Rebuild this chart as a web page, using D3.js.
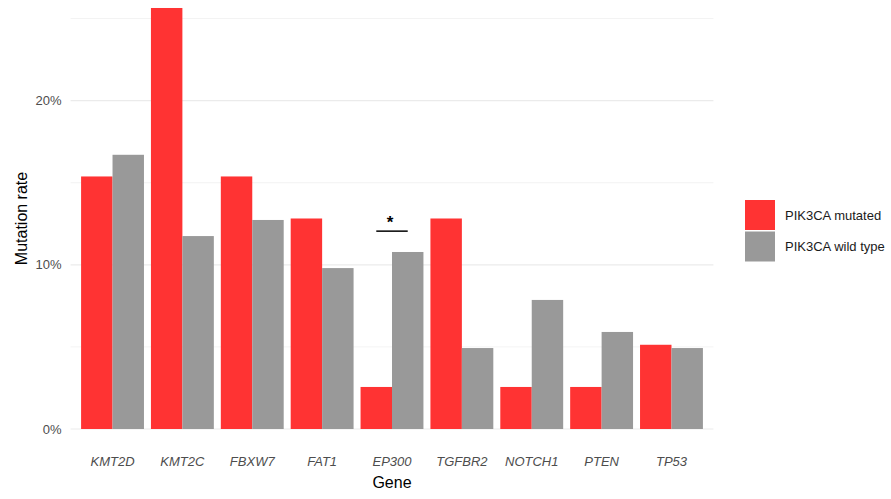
<!DOCTYPE html>
<html>
<head>
<meta charset="utf-8">
<script src="https://cdn.jsdelivr.net/npm/d3@7"></script>
<style>
  body { margin: 0; background: #fff; }
  svg text { font-family: "Liberation Sans", Arial, sans-serif; }
</style>
</head>
<body>
<div id="chart"></div>
<script>
// Data (mutation rate, %)
var genes = ["KMT2D", "KMT2C", "FBXW7", "FAT1", "EP300", "TGFBR2", "NOTCH1", "PTEN", "TP53"];
var groups = ["PIK3CA mutated", "PIK3CA wild type"];
var mutated = [15.38, 25.64, 15.38, 12.82, 2.56, 12.82, 2.56, 2.56, 5.13];
var wildType = [16.7, 11.75, 12.73, 9.8, 10.78, 4.93, 7.86, 5.91, 4.93];
var yTicks = [0, 10, 20];
var yMinor = [5, 15, 25];
var sigGene = "EP300";
var sigLevel = 12.05;

var width = 891, height = 499;
var margin = { top: 8, right: 177.6, bottom: 70, left: 70.6 };

var svg = d3.select("#chart").append("svg")
    .attr("width", width)
    .attr("height", height);

var x = d3.scaleBand()
    .domain(genes)
    .range([margin.left, width - margin.right])
    .paddingInner(0.1)
    .paddingOuter(0.15);

var x1 = d3.scaleBand()
    .domain(groups)
    .range([0, x.bandwidth()]);

var y = d3.scaleLinear()
    .domain([0, 25])
    .range([429, 18.5]);

var color = d3.scaleOrdinal().domain(groups).range(["#ff3333", "#999999"]);

// Grid lines
svg.append("g").selectAll("line.minor")
    .data(yMinor)
    .enter().append("line")
    .attr("x1", margin.left).attr("x2", width - margin.right)
    .attr("y1", function(d) { return y(d); }).attr("y2", function(d) { return y(d); })
    .style("stroke", "#ebebeb").style("stroke-width", 0.6);

svg.append("g").selectAll("line.major")
    .data(yTicks)
    .enter().append("line")
    .attr("x1", margin.left).attr("x2", width - margin.right)
    .attr("y1", function(d) { return y(d); }).attr("y2", function(d) { return y(d); })
    .style("stroke", "#ebebeb").style("stroke-width", 1.2);

// Bars
var rows = genes.map(function(g, i) {
    return { gene: g, values: [
        { group: groups[0], value: mutated[i] },
        { group: groups[1], value: wildType[i] }
    ] };
});

svg.append("g").selectAll("g")
    .data(rows)
    .enter().append("g")
    .attr("transform", function(d) { return "translate(" + x(d.gene) + ",0)"; })
    .selectAll("rect")
    .data(function(d) { return d.values; })
    .enter().append("rect")
    .attr("x", function(d) { return x1(d.group); })
    .attr("width", x1.bandwidth())
    .attr("y", function(d) { return y(d.value); })
    .attr("height", function(d) { return y(0) - y(d.value); })
    .style("fill", function(d) { return color(d.group); });

// Y axis labels
var yAxis = d3.axisLeft(y)
    .tickValues(yTicks)
    .tickSize(0)
    .tickPadding(9)
    .tickFormat(function(d) { return d + "%"; });

svg.append("g")
    .attr("transform", "translate(" + margin.left + ",0)")
    .call(yAxis)
    .call(function(g) { g.select(".domain").remove(); })
    .selectAll("text")
    .style("font-size", "13px")
    .style("fill", "#4d4d4d")
    .style("font-family", "'Liberation Sans', Arial, sans-serif");

// X axis labels
var xAxis = d3.axisBottom(x).tickSize(0).tickPadding(28);
svg.append("g")
    .attr("transform", "translate(0," + y(0) + ")")
    .call(xAxis)
    .call(function(g) { g.select(".domain").remove(); })
    .selectAll("text")
    .style("font-size", "13px")
    .style("font-style", "italic")
    .style("fill", "#4d4d4d")
    .style("font-family", "'Liberation Sans', Arial, sans-serif");

// Axis titles
svg.append("text")
    .attr("x", (margin.left + width - margin.right) / 2)
    .attr("y", 488)
    .attr("text-anchor", "middle")
    .style("font-size", "16px")
    .style("fill", "#000")
    .text("Gene");

svg.append("text")
    .attr("transform", "translate(27,218.5) rotate(-90)")
    .attr("text-anchor", "middle")
    .style("font-size", "16px")
    .style("fill", "#000")
    .text("Mutation rate");

// Significance marker
var sx = x(sigGene);
svg.append("line")
    .attr("x1", sx + x1(groups[0]) + x1.bandwidth() / 2)
    .attr("x2", sx + x1(groups[1]) + x1.bandwidth() / 2)
    .attr("y1", y(sigLevel)).attr("y2", y(sigLevel))
    .style("stroke", "#000").style("stroke-width", 1.5);

svg.append("text")
    .attr("x", sx + x.bandwidth() / 2 - 2)
    .attr("y", y(sigLevel) - 3)
    .attr("text-anchor", "middle")
    .style("font-size", "17px")
    .style("font-weight", "bold")
    .style("fill", "#000")
    .text("*");

// Legend
var legend = svg.append("g")
    .attr("transform", "translate(745,200)");

var item = legend.selectAll("g")
    .data(groups)
    .enter().append("g")
    .attr("transform", function(d, i) { return "translate(0," + i * 31.5 + ")"; });

item.append("rect")
    .attr("width", 30)
    .attr("height", 30)
    .style("fill", color);

item.append("text")
    .attr("x", 40)
    .attr("y", 15)
    .attr("dy", "0.35em")
    .style("font-size", "13px")
    .style("fill", "#1a1a1a")
    .text(function(d) { return d; });
</script>
</body>
</html>
